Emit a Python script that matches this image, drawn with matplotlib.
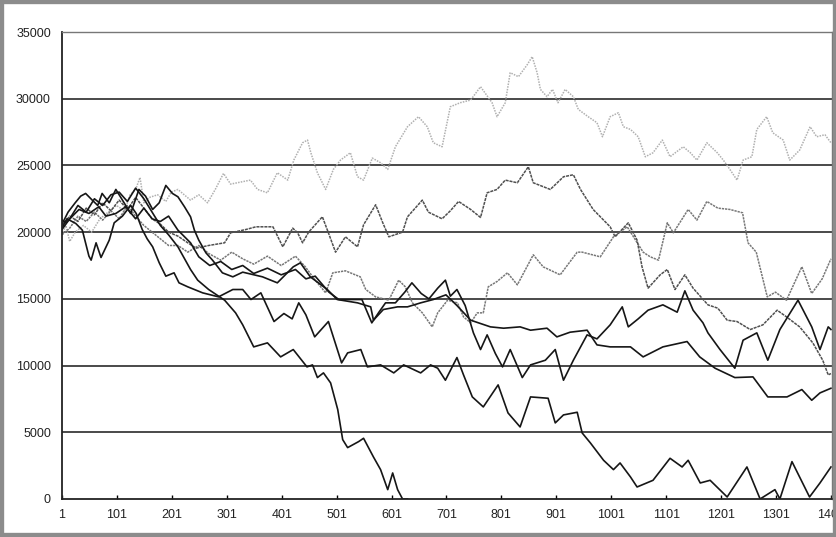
import matplotlib.pyplot as plt
from matplotlib.patches import Rectangle

# Values (step, value) for each of the seven walks
steps_l = [1, 8, 15, 25, 40, 55, 70, 85, 100, 115, 125, 135, 143, 150, 160, 175, 190, 200, 212, 235, 250, 266, 280, 295,
           308, 320, 344, 357, 375, 393, 412, 423, 439, 448, 454, 466, 481, 495, 508, 526, 539, 550, 566, 581, 594,
           608, 630, 650, 666, 677, 693, 708, 726, 745, 763, 784, 793, 808, 817, 832, 848, 857, 866, 872, 884, 894,
           904, 917, 932, 941, 959, 975, 985, 999, 1014, 1023, 1036, 1050, 1063, 1077, 1094, 1108, 1132, 1145, 1157,
           1175, 1194, 1205, 1217, 1230, 1241, 1257, 1266, 1284, 1295, 1314, 1326, 1344, 1363, 1375, 1390, 1401]
vals_l = [19800, 20500, 19300, 20000, 20500, 20000, 21000, 21500, 22000, 21600, 22800, 23200, 24100, 22200, 22600,
          22800, 22300, 23000, 23200, 22400, 22800, 22200, 23200, 24400, 23600, 23700, 23900, 23200, 22950, 24450,
          23900, 25400, 26700, 26900, 25950, 24450, 23200, 24700, 25400, 25950, 24150, 23900, 25550, 25200, 24700,
          26400, 27900, 28650, 27900, 26700, 26400, 29400, 29700, 29900, 30900, 29700, 28650, 29700, 31950, 31650,
          32550, 33150, 31950, 30700, 30150, 30700, 29700, 30700, 30150, 29200, 28650, 28200, 27150, 28650, 28950,
          27900, 27700, 27150, 25650, 25950, 26900, 25650, 26400, 25950, 25400, 26700, 25950, 25400, 24700, 23900,
          25400, 25650, 27700, 28650, 27450, 26900, 25400, 26150, 27900, 27150, 27300, 26700]

steps_p = [1, 15, 30, 45, 60, 75, 90, 105, 120, 135, 150, 165, 180, 195, 212, 230, 245, 268, 297, 308, 336, 354, 385,
           403, 421, 430, 439, 450, 475, 486, 499, 517, 539, 550, 572, 585, 596, 621, 630, 657, 668, 693, 708, 723,
           745, 763, 775, 793, 808, 830, 850, 859, 890, 914, 932, 945, 968, 999, 1008, 1032, 1048, 1057, 1068, 1090,
           1103, 1117, 1135, 1150, 1177, 1195, 1212, 1230, 1254, 1277, 1303, 1320, 1344, 1368, 1386, 1396, 1401]
vals_p = [20500, 21200, 20800, 21800, 21300, 22200, 21600, 22400, 21700, 22600, 21800, 21000, 20600, 20000, 19700,
          19200, 18800, 19000, 19200, 19950, 20200, 20400, 20400, 18900, 20300, 19950, 19200, 20000, 21150, 19950,
          18500, 19650, 18900, 20550, 22050, 20700, 19650, 20000, 21150, 22400, 21500, 21000, 21600, 22300, 21700,
          21100, 22950, 23200, 23900, 23700, 24900, 23700, 23200, 24150, 24300, 23200, 21700, 20400, 19650, 20700,
          19400, 17400, 15800, 16800, 17200, 15700, 16800, 15800, 14550, 14300, 13400, 13300, 12700, 13050, 14150,
          13650, 12900, 11700, 10400, 9300, 9400]

steps_q = [1, 15, 30, 45, 60, 75, 90, 105, 120, 135, 150, 165, 180, 195, 212, 230, 250, 268, 290, 310, 330, 350, 375,
           400, 426, 444, 462, 481, 494, 517, 544, 554, 572, 596, 614, 626, 639, 657, 675, 685, 703, 721, 732, 745,
           757, 768, 777, 793, 812, 830, 859, 877, 908, 939, 948, 981, 1005, 1030, 1059, 1072, 1087, 1103, 1114, 1141,
           1157, 1175, 1195, 1217, 1240, 1250, 1265, 1285, 1300, 1320, 1348, 1366, 1385, 1401]
vals_q = [19800, 20300, 21200, 20800, 21500, 20900, 21600, 21000, 22000, 21200, 20500, 20000, 19500, 19000, 19000,
          18500, 19000, 18400, 17900, 18500, 18000, 17600, 18200, 17500, 18200, 17400, 16400, 15450, 16950, 17100,
          16650, 15700, 15150, 14900, 16400, 15900, 14700, 13950, 12900, 13950, 14900, 14700, 13650, 13200, 13950,
          13950, 15900, 16300, 16950, 16050, 18300, 17400, 16800, 18500, 18500, 18150, 19650, 20400, 18500, 18150,
          17900, 20700, 19950, 21700, 20900, 22300, 21800, 21700, 21450, 19200, 18500, 15150, 15500, 14900, 17400,
          15400, 16500, 18000]

steps_c = [1, 8, 20, 32, 50, 68, 81, 99, 117, 135, 150, 165, 180, 195, 212, 235, 250, 270, 290, 310, 330, 350, 375,
           400, 426, 445, 462, 487, 505, 535, 547, 565, 578, 590, 608, 625, 638, 655, 669, 685, 699, 708, 720, 735,
           750, 763, 775, 790, 803, 817, 839, 854, 881, 899, 914, 932, 957, 975, 999, 1021, 1032, 1050, 1068, 1095,
           1121, 1135, 1150, 1168, 1177, 1199, 1226, 1241, 1266, 1286, 1308, 1341, 1366, 1381, 1396, 1401]
vals_c = [20900, 20700, 21200, 21700, 21400, 21900, 21200, 21400, 21900, 21000, 21800, 21000, 20800, 21200, 20150,
          19200, 18150, 17500, 17800, 17200, 17500, 16900, 17300, 16800, 17200, 16500, 16700, 15500, 14950, 14950,
          14950, 13200, 14000, 14700, 14700, 15500, 16200, 15400, 15000, 15800, 16400, 15200, 15700, 14500, 12450,
          11200, 12300, 10900, 9900, 11200, 9100, 10050, 10400, 11200, 8900, 10400, 12300, 12000, 13050, 14400,
          12900, 13500, 14150, 14550, 14000, 15600, 14150, 13200, 12450, 11200, 9800, 11900, 12450, 10400, 12700,
          14900, 12900, 11200, 12900, 12700]

steps_e = [1, 12, 25, 35, 44, 56, 66, 74, 87, 99, 111, 126, 141, 153, 166, 178, 190, 202, 212, 224, 235, 242, 250,
           263, 275, 293, 312, 330, 366, 393, 422, 435, 453, 484, 502, 539, 563, 568, 586, 612, 630, 654, 677, 700,
           720, 745, 781, 805, 835, 854, 884, 902, 926, 957, 975, 999, 1036, 1059, 1095, 1139, 1162, 1190, 1226,
           1259, 1286, 1321, 1348, 1366, 1381, 1401]
vals_e = [20600, 21500, 22200, 22700, 22900, 22400, 22000, 22900, 22200, 23200, 22400, 21400, 23200, 22700, 21700,
          22200, 23500, 22900, 22650, 21900, 21150, 20150, 19400, 18450, 17900, 16950, 16650, 17000, 16650, 16200,
          17400, 17700, 16650, 15700, 14950, 14700, 14400, 13400, 14200, 14400, 14400, 14700, 14950, 15300, 14500,
          13400, 12900, 12800, 12900, 12650, 12800, 12150, 12500, 12650, 11550, 11400, 11400, 10650, 11400, 11800,
          10650, 9800, 9100, 9150, 7650, 7650, 8200, 7400, 7950, 8300]

steps_f = [1, 10, 26, 38, 50, 54, 63, 72, 87, 96, 111, 126, 136, 147, 156, 166, 178, 190, 205, 214, 230, 257, 286,
           312, 330, 345, 363, 387, 405, 420, 432, 445, 461, 486, 510, 521, 545, 557, 581, 605, 623, 654, 672, 685,
           699, 720, 732, 748, 768, 795, 813, 835, 854, 886, 899, 914, 939, 948, 963, 987, 1005, 1017, 1036, 1048,
           1077, 1108, 1130, 1141, 1163, 1181, 1212, 1248, 1272, 1299, 1308, 1330, 1362, 1381, 1401]
vals_f = [20300, 21000, 20650, 20150, 18200, 17900, 19200, 18100, 19400, 20700, 21200, 22000, 21400, 20200, 19500,
          18900, 17700, 16700, 16950, 16200, 15900, 15450, 15150, 15700, 15700, 14950, 15450, 13300, 13900, 13500,
          14700, 13800, 12150, 13300, 10200, 10950, 11200, 9900, 10050, 9450, 10050, 9450, 10050, 9800, 8900, 10600,
          9300, 7650, 6900, 8550, 6450, 5400, 7650, 7550, 5700, 6300, 6500, 4950, 4200, 2900, 2200, 2700, 1650, 900,
          1400, 3050, 2400, 2900, 1200, 1400, 150, 2400, 0, 700, 0, 2800, 150, 1200, 2400]

steps_g = [1, 15, 30, 45, 60, 75, 90, 105, 120, 135, 150, 165, 180, 195, 212, 235, 248, 268, 297, 317, 330, 350, 375,
           399, 422, 447, 457, 466, 477, 490, 503, 512, 521, 541, 550, 568, 581, 594, 603, 612, 621, 630]
vals_g = [20200, 21000, 22000, 21500, 22500, 22000, 22800, 23000, 22300, 23300, 22500, 21500, 20500, 19800, 18900,
          17200, 16400, 15700, 14900, 13950, 13050, 11400, 11700, 10650, 11200, 9900, 10050, 9100, 9450, 8700, 6700,
          4450, 3850, 4300, 4550, 3150, 2200, 700, 1950, 700, 0, 0]

x_ticks = list(range(1, 1402, 100))
y_ticks = list(range(0, 35001, 5000))

fig = plt.figure(figsize=(8.37, 5.37), dpi=100)
ax = fig.add_axes([0.0741, 0.0708, 0.9200, 0.8696])

# grey walks first, black walks on top
ax.plot(steps_l, vals_l, color='#b0b0b0', lw=1.1, ls=(0, (1, 0.8)))
ax.plot(steps_q, vals_q, color='#777777', lw=1.1, ls=(0, (1.5, 0.6)))
ax.plot(steps_p, vals_p, color='#505050', lw=1.1, ls=(0, (2, 0.6)))
ax.plot(steps_c, vals_c, color='#161616', lw=1.2)
ax.plot(steps_e, vals_e, color='#161616', lw=1.2)
ax.plot(steps_f, vals_f, color='#161616', lw=1.2)
ax.plot(steps_g, vals_g, color='#161616', lw=1.2)

ax.set_xlim(1, 1403)
ax.set_ylim(0, 35000)
ax.set_xticks(x_ticks)
ax.set_xticklabels([str(t) for t in x_ticks])
ax.set_yticks(y_ticks)
ax.set_yticklabels([str(t) for t in y_ticks])

for yv in y_ticks[1:-1]:
    ax.axhline(yv, color='#2a2a2a', lw=1.2, zorder=0.5)

for s in ['left', 'bottom']:
    ax.spines[s].set_color('#222222')
    ax.spines[s].set_linewidth(1.3)
for s in ['top', 'right']:
    ax.spines[s].set_color('#777777')
    ax.spines[s].set_linewidth(1.0)
    ax.spines[s].set_linestyle((0, (1, 1)))

ax.tick_params(axis='x', direction='in', length=3, width=1, pad=7, labelsize=9)
ax.tick_params(axis='y', length=0, pad=8, labelsize=9)
for lab in ax.get_xticklabels() + ax.get_yticklabels():
    lab.set_family('Liberation Sans')
    lab.set_color('#222222')

# scanned frame around the chart
fig.patches.append(Rectangle((0, 0), 1, 1, transform=fig.transFigure, fill=False,
                             edgecolor='#8c8c8c', lw=6))

fig.savefig('out.png', dpi=100, facecolor='white')
